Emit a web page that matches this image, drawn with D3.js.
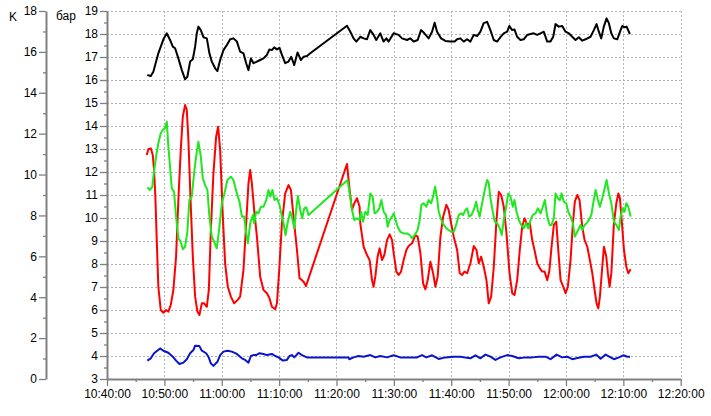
<!DOCTYPE html>
<html>
<head>
<meta charset="utf-8">
<script src="https://cdn.jsdelivr.net/npm/d3@7"></script>
<style>
  body { margin: 0; background: #fff; }
  text { font-family: "Liberation Sans", Arial, sans-serif; font-size: 12px; fill: #000; }
</style>
</head>
<body>
<div id="chart"></div>
<script>
// minutes after 10:40:00, value in бар
var startTime = "10:40:00";
var endTime = "12:20:00";

var blackData = [[7.03,16.22],[7.63,16.17],[8.08,16.36],[8.95,17.16],[9.83,17.77],[10.42,18.03],[10.99,17.74],[11.47,17.45],[11.87,17.38],[12.44,16.94],[13.04,16.43],[13.61,16.03],[14.01,16.14],[14.49,16.80],[14.96,16.90],[15.36,17.45],[15.65,18.03],[15.93,18.32],[16.35,18.17],[16.81,17.86],[17.40,17.81],[17.85,17.16],[18.27,16.80],[18.85,16.51],[19.25,16.39],[19.72,16.87],[20.30,17.30],[20.89,17.52],[21.47,17.77],[22.04,17.81],[22.64,17.67],[23.21,17.23],[23.79,17.16],[24.26,16.73],[24.66,16.43],[25.08,16.94],[25.53,16.73],[26.13,16.80],[26.70,16.87],[27.28,16.94],[27.87,17.09],[28.32,17.33],[28.74,17.30],[29.14,17.42],[29.62,17.33],[30.07,17.40],[30.49,17.09],[31.06,16.73],[31.64,16.80],[32.11,17.01],[32.64,16.65],[33.21,17.20],[33.80,16.87],[34.26,17.01],[34.85,17.04],[35.43,17.16],[41.83,18.36],[42.41,18.10],[42.98,17.81],[43.46,17.67],[44.15,17.88],[44.73,17.81],[45.32,17.77],[45.89,18.17],[46.47,17.96],[46.94,17.74],[47.64,18.03],[48.21,17.67],[48.69,17.81],[49.09,17.67],[49.96,18.03],[50.83,17.96],[51.42,17.81],[52.30,17.74],[52.87,17.81],[53.45,17.67],[54.15,17.74],[54.74,18.17],[55.32,18.03],[56.07,17.81],[56.66,18.10],[57.11,18.49],[57.53,18.10],[58.23,17.81],[58.98,17.70],[59.85,17.67],[60.60,17.67],[61.02,17.77],[61.60,17.81],[62.17,17.67],[62.77,17.77],[63.34,17.67],[63.92,17.96],[64.51,17.91],[65.09,18.10],[65.66,18.47],[66.26,18.53],[66.83,18.17],[67.41,17.74],[68.00,17.67],[68.58,17.86],[69.15,18.03],[69.75,18.10],[70.15,18.35],[70.62,18.17],[71.02,18.20],[71.49,17.88],[72.07,17.74],[72.64,17.77],[73.24,17.96],[73.81,18.00],[74.39,18.03],[74.98,17.96],[75.56,18.03],[76.13,18.10],[76.73,17.67],[77.30,17.67],[77.78,17.88],[78.18,18.43],[78.75,18.32],[79.35,18.35],[79.92,18.10],[80.50,18.03],[81.09,17.88],[81.67,17.74],[82.24,17.86],[82.84,17.71],[83.41,17.77],[84.28,17.88],[84.86,18.17],[85.33,18.43],[85.73,18.10],[86.15,17.81],[86.60,18.32],[87.08,18.68],[87.48,18.47],[87.90,18.03],[88.35,17.81],[88.94,17.77],[89.52,18.17],[89.82,18.35],[90.22,18.29],[90.57,18.32],[91.14,18.00]];

var redData = [[6.93,12.74],[7.21,12.99],[7.63,13.03],[7.98,12.74],[8.20,12.09],[8.43,10.93],[8.67,9.04],[8.95,7.01],[9.37,6.00],[9.83,5.88],[10.30,6.00],[10.70,5.93],[11.12,6.22],[11.57,6.87],[12.04,8.32],[12.44,10.78],[12.86,12.96],[13.21,14.40],[13.61,14.91],[13.91,14.70],[14.19,13.39],[14.61,10.49],[14.96,8.32],[15.36,6.58],[15.76,5.93],[16.11,5.78],[16.53,6.29],[16.93,6.29],[17.40,6.14],[17.75,6.87],[18.10,9.48],[18.55,11.94],[19.02,13.53],[19.37,13.97],[19.72,12.96],[20.19,10.06],[20.59,8.03],[21.06,7.01],[21.59,6.58],[22.16,6.29],[22.74,6.43],[23.21,6.58],[23.79,7.74],[24.26,9.77],[24.66,11.51],[24.96,12.09],[25.25,11.51],[25.65,10.35],[26.13,9.19],[26.70,7.45],[27.28,6.87],[27.87,6.73],[28.32,6.51],[28.74,6.14],[29.32,6.03],[29.62,6.29],[30.02,7.74],[30.49,9.77],[31.06,11.07],[31.64,11.43],[32.06,11.22],[32.51,10.06],[33.11,8.61],[33.56,7.38],[33.98,7.30],[34.26,7.23],[34.68,7.04],[41.83,12.35],[42.29,11.22],[42.71,10.35],[43.11,10.64],[43.58,10.86],[44.03,10.49],[44.15,9.77],[44.73,8.75],[45.32,8.39],[45.78,8.17],[46.19,7.30],[46.47,7.01],[46.77,7.45],[47.17,8.32],[47.52,8.68],[47.94,8.17],[48.34,8.39],[48.81,9.04],[49.27,9.29],[49.69,9.04],[49.97,8.47],[50.44,7.67],[50.84,7.52],[51.26,7.67],[51.71,8.17],[52.18,8.61],[52.58,8.78],[53.18,8.90],[53.75,9.26],[54.15,9.19],[54.63,8.47],[55.10,7.16],[55.50,6.90],[55.90,7.30],[56.37,8.10],[56.84,7.60],[57.24,7.01],[57.64,7.45],[58.12,9.19],[58.59,10.06],[59.16,10.57],[59.56,10.35],[59.98,9.77],[60.44,9.19],[61.03,8.61],[61.48,7.60],[61.90,7.52],[62.30,7.67],[62.78,7.60],[63.35,8.03],[63.93,8.78],[64.40,8.61],[64.80,8.03],[65.22,8.32],[65.67,7.88],[66.14,7.30],[66.54,6.29],[66.96,6.58],[67.42,7.88],[67.89,9.91],[68.29,11.14],[68.71,11.00],[69.16,10.49],[69.63,9.33],[70.16,7.60],[70.63,6.73],[71.03,6.65],[71.50,7.30],[71.95,8.61],[72.37,9.62],[72.77,9.99],[73.25,9.70],[73.70,9.77],[74.12,9.04],[74.52,8.61],[74.99,8.03],[75.45,7.81],[75.86,7.67],[76.27,7.67],[76.74,7.30],[77.09,7.67],[77.49,8.75],[77.89,9.70],[78.31,9.84],[78.66,8.61],[79.06,7.30],[79.53,7.01],[79.93,6.73],[80.33,7.01],[80.80,8.17],[81.21,9.77],[81.55,10.71],[81.97,11.00],[82.37,10.78],[82.84,9.62],[83.25,9.04],[83.72,8.75],[84.17,8.17],[84.59,7.60],[84.99,6.87],[85.34,6.29],[85.64,6.07],[85.92,6.58],[86.33,7.88],[86.62,8.75],[87.03,8.32],[87.31,7.60],[87.61,7.01],[87.91,7.60],[88.36,9.77],[88.78,10.64],[89.13,11.07],[89.41,10.86],[89.76,9.77],[90.11,8.61],[90.52,7.88],[90.87,7.60],[91.27,7.77]];

var greenData = [[7.03,11.33],[7.50,11.22],[7.91,11.36],[8.08,11.80],[8.55,12.67],[8.95,13.25],[9.37,13.68],[9.72,13.83],[10.12,13.90],[10.42,14.19],[10.70,13.10],[10.99,12.23],[11.29,11.29],[11.69,11.14],[11.99,10.20],[12.44,9.12],[12.86,8.97],[13.21,8.64],[13.61,8.75],[14.01,9.40],[14.36,10.78],[14.78,10.93],[15.18,11.94],[15.53,12.67],[15.93,13.32],[16.35,12.67],[16.70,11.73],[17.10,11.43],[17.50,11.22],[17.85,10.06],[18.27,9.19],[18.67,8.97],[19.14,8.68],[19.60,9.62],[20.02,10.64],[20.47,11.07],[20.99,11.65],[21.59,11.80],[22.04,11.65],[22.64,11.07],[23.09,10.71],[23.51,10.06],[23.91,10.06],[24.26,9.33],[24.55,8.90],[24.96,9.77],[25.43,10.13],[25.65,9.77],[26.00,10.27],[26.40,10.20],[26.82,10.49],[27.28,10.49],[27.75,10.78],[28.15,11.22],[28.45,10.93],[28.85,11.22],[29.20,10.78],[29.62,10.86],[30.07,10.57],[30.49,10.06],[30.77,9.77],[31.12,9.26],[31.47,9.77],[31.94,10.27],[32.29,9.99],[32.64,9.55],[32.98,10.35],[33.28,10.96],[33.68,10.35],[34.03,9.99],[34.38,10.42],[34.73,10.47],[35.13,10.13],[41.94,11.65],[42.29,11.07],[42.71,10.35],[43.11,9.91],[43.58,9.99],[44.03,9.91],[44.28,10.27],[44.62,9.84],[45.03,10.27],[45.43,10.13],[45.90,11.07],[46.30,10.93],[46.65,10.20],[47.07,10.27],[47.47,10.42],[47.82,10.78],[48.22,10.27],[48.64,10.13],[48.92,9.62],[49.27,9.91],[49.69,10.06],[49.97,10.20],[50.31,9.91],[50.66,9.62],[51.13,9.40],[51.71,9.33],[52.30,9.33],[52.76,9.26],[53.18,9.12],[53.63,9.26],[54.15,9.48],[54.50,9.91],[54.80,10.57],[55.20,10.64],[55.67,10.49],[56.07,10.78],[56.49,10.64],[56.84,10.93],[57.19,11.36],[57.54,10.86],[57.82,10.27],[58.29,9.91],[58.69,9.70],[59.16,9.55],[59.56,9.48],[59.98,9.40],[60.44,9.40],[60.86,9.70],[61.31,10.13],[61.73,10.20],[62.08,10.13],[62.48,10.35],[62.78,10.42],[63.12,10.06],[63.53,10.13],[63.93,10.35],[64.35,10.71],[64.62,10.35],[64.97,10.06],[65.27,10.49],[65.67,11.00],[65.97,11.36],[66.27,11.65],[66.55,11.51],[66.84,10.86],[67.24,10.27],[67.59,9.84],[68.01,9.77],[68.46,9.55],[68.81,9.26],[69.16,9.91],[69.58,10.49],[69.93,11.07],[70.33,10.93],[70.73,10.49],[71.03,10.78],[71.38,10.27],[71.78,9.91],[72.20,9.70],[72.65,9.55],[73.07,9.77],[73.42,9.55],[73.82,9.91],[74.22,10.13],[74.69,10.20],[75.10,10.42],[75.57,10.20],[75.97,10.49],[76.32,10.78],[76.74,10.06],[77.14,9.70],[77.49,9.70],[77.89,9.99],[78.18,11.07],[78.59,10.86],[78.94,10.78],[79.23,11.07],[79.63,10.71],[80.05,10.64],[80.40,10.27],[80.80,10.06],[81.21,9.77],[81.55,9.19],[81.97,9.40],[82.25,9.55],[82.55,9.70],[82.84,9.48],[83.25,9.70],[83.59,9.77],[83.99,9.91],[84.42,10.13],[84.76,10.64],[85.17,11.22],[85.57,10.78],[85.92,10.49],[86.33,10.86],[86.74,11.29],[87.09,11.65],[87.49,11.07],[87.91,10.64],[88.36,9.84],[88.78,9.70],[89.23,9.48],[89.52,10.06],[89.88,10.42],[90.22,10.27],[90.52,10.64],[90.87,10.49],[91.27,10.06]];

var blueData = [[7.03,3.80],[7.63,3.90],[8.20,4.12],[9.25,4.33],[9.83,4.23],[10.70,4.14],[11.47,3.97],[12.04,3.80],[12.62,3.65],[13.32,3.71],[13.91,3.86],[14.49,4.12],[15.06,4.26],[15.36,4.45],[16.11,4.43],[16.53,4.23],[17.28,4.12],[17.68,3.97],[18.10,3.68],[18.55,3.57],[19.25,3.75],[19.72,4.04],[20.30,4.19],[20.99,4.23],[21.76,4.19],[22.64,4.09],[23.51,3.90],[24.08,3.83],[24.66,3.71],[25.08,4.00],[25.53,4.04],[26.00,4.04],[26.58,4.12],[27.28,4.09],[27.87,4.04],[28.74,4.09],[29.32,4.00],[29.90,3.94],[30.66,3.80],[31.36,3.83],[31.82,4.00],[32.23,4.04],[32.64,3.94],[33.39,4.14],[33.98,4.04],[34.85,3.94],[35.43,3.94],[42.11,3.94],[42.23,3.86],[42.98,3.94],[43.86,4.00],[44.73,3.97],[45.90,4.04],[46.77,3.94],[47.64,4.00],[48.81,3.94],[49.97,4.03],[51.13,3.94],[52.58,3.94],[54.05,3.94],[54.92,4.04],[55.67,3.94],[56.67,4.03],[57.82,3.87],[58.99,3.94],[60.44,3.97],[61.61,3.97],[62.48,3.93],[63.35,3.90],[64.22,4.03],[65.10,3.90],[65.97,4.06],[66.84,3.97],[67.71,3.83],[68.58,3.94],[69.76,4.04],[70.63,4.00],[71.78,3.90],[72.95,3.94],[74.12,3.94],[75.27,3.97],[76.44,3.97],[77.31,3.86],[78.36,4.06],[79.35,3.94],[80.23,3.97],[81.10,3.86],[81.97,3.91],[83.12,3.97],[84.29,3.97],[85.29,4.06],[86.04,3.88],[86.91,4.06],[87.78,3.94],[88.36,3.86],[89.23,3.94],[90.00,4.03],[90.70,3.97],[91.15,3.97]];

var barTicks = d3.range(3, 20);
var barMinorTicks = d3.range(3.5, 19, 1);
var kTicks = d3.range(0, 19, 2);
var kMinorTicks = d3.range(1, 18, 2);
var kLabel = "K";
var barLabel = "бар";

var W = 711, H = 416;
var plotLeft = 107, plotRight = 680.7, plotTop = 11, plotBottom = 379;
var axisColor = "#808080";

var parseTime = d3.timeParse("%H:%M:%S");
var t0 = parseTime(startTime), t1 = parseTime(endTime);
function toDate(m) { return new Date(t0.getTime() + m * 60000); }

var x = d3.scaleTime().domain([t0, t1]).range([plotLeft, plotRight]);
var yBar = d3.scaleLinear().domain([3, 19]).range([plotBottom, plotTop]);
var yK = d3.scaleLinear().domain([0, 18]).range([plotBottom, plotTop]);

var svg = d3.select("#chart").append("svg")
    .attr("width", W)
    .attr("height", H);

svg.append("rect").attr("width", W).attr("height", H).attr("fill", "#fff");

// grid
var majorTimes = d3.timeMinute.every(10).range(t0, new Date(t1.getTime() + 1));
var grid = svg.append("g")
    .attr("stroke", "#b4b4b4")
    .attr("stroke-width", 1)
    .attr("stroke-dasharray", "2,2");
grid.selectAll(".hg").data(barTicks.slice(1)).enter().append("line")
    .attr("x1", plotLeft).attr("x2", plotRight)
    .attr("y1", function(d) { return Math.round(yBar(d)) + 0.5; })
    .attr("y2", function(d) { return Math.round(yBar(d)) + 0.5; });
grid.selectAll(".vg").data(majorTimes.slice(1)).enter().append("line")
    .attr("y1", plotTop).attr("y2", plotBottom)
    .attr("x1", function(d) { return Math.round(x(d)) + 0.5; })
    .attr("x2", function(d) { return Math.round(x(d)) + 0.5; });

// series
var line = d3.line()
    .x(function(d) { return x(toDate(d[0])); })
    .y(function(d) { return yBar(d[1]); })
    .curve(d3.curveLinear);

var series = [
  { data: blackData, color: "#000000" },
  { data: redData, color: "#ff0000" },
  { data: greenData, color: "#1ee81e" },
  { data: blueData, color: "#0a14c8" }
];
series.forEach(function(s) {
  svg.append("path")
      .attr("d", line(s.data))
      .attr("fill", "none")
      .attr("stroke", s.color)
      .attr("stroke-width", 2)
      .attr("stroke-linejoin", "round");
});

function styleAxis(g) {
  g.select(".domain").attr("stroke", axisColor).attr("stroke-width", 2);
  g.selectAll(".tick line").attr("stroke", axisColor).attr("stroke-width", 1.3);
  g.selectAll(".tick text").attr("fill", "#000")
      .style("font-family", '"Liberation Sans", Arial, sans-serif')
      .style("font-size", "12px");
}
function styleMinor(g) {
  g.select(".domain").remove();
  g.selectAll("line").attr("stroke", axisColor).attr("stroke-width", 1.3);
}

// K axis
var kAxis = svg.append("g").attr("transform", "translate(46,0)")
    .call(d3.axisLeft(yK).tickValues(kTicks).tickSize(7).tickSizeOuter(0).tickPadding(2));
styleAxis(kAxis);
svg.append("g").attr("transform", "translate(46,0)")
    .call(d3.axisLeft(yK).tickValues(kMinorTicks).tickSize(3).tickFormat(""))
    .call(styleMinor);

// bar axis
var barAxis = svg.append("g").attr("transform", "translate(" + plotLeft + ",0)")
    .call(d3.axisLeft(yBar).tickValues(barTicks).tickSize(7).tickSizeOuter(0).tickPadding(2));
styleAxis(barAxis);
svg.append("g").attr("transform", "translate(" + plotLeft + ",0)")
    .call(d3.axisLeft(yBar).tickValues(barMinorTicks).tickSize(3).tickFormat(""))
    .call(styleMinor);

// time axis
var xAxis = svg.append("g").attr("transform", "translate(0," + plotBottom + ")")
    .call(d3.axisBottom(x).tickValues(majorTimes).tickSize(7).tickSizeOuter(0)
      .tickPadding(3).tickFormat(d3.timeFormat("%H:%M:%S")));
styleAxis(xAxis);
var minorTimes = majorTimes.slice(0, -1).map(function(d) { return d3.timeMinute.offset(d, 5); });
svg.append("g").attr("transform", "translate(0," + plotBottom + ")")
    .call(d3.axisBottom(x).tickValues(minorTimes).tickSize(3).tickFormat(""))
    .call(styleMinor);

// axis names
svg.append("text").attr("x", 9).attr("y", 21).text(kLabel);
svg.append("text").attr("x", 56).attr("y", 20).text(barLabel);
</script>
</body>
</html>
